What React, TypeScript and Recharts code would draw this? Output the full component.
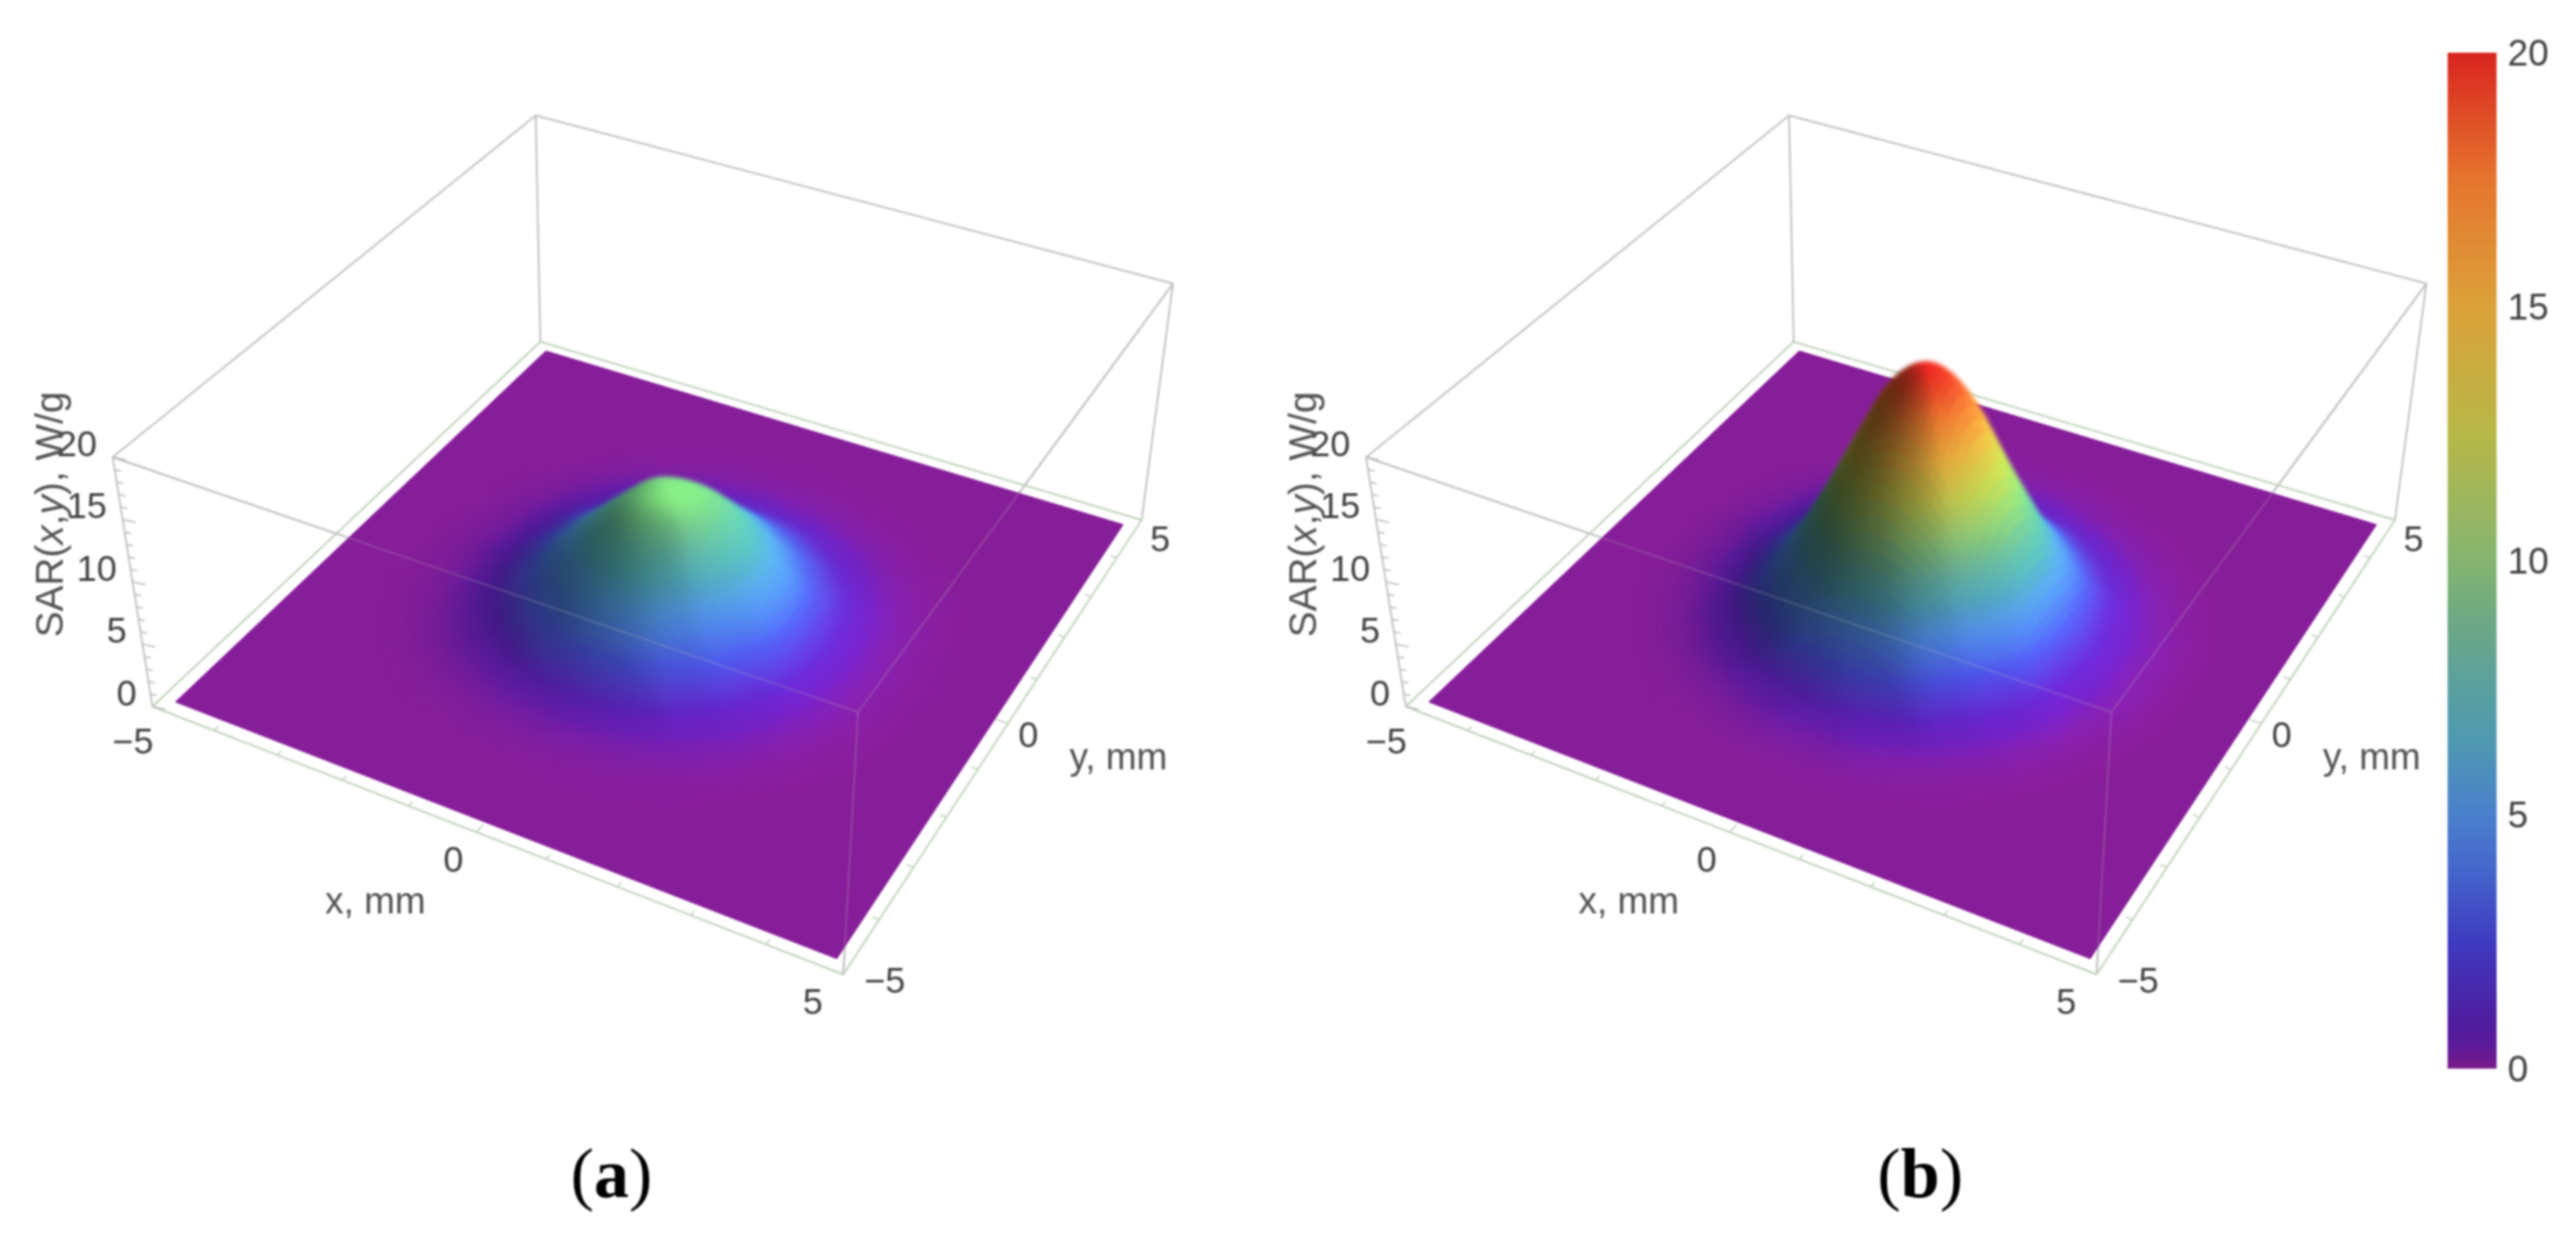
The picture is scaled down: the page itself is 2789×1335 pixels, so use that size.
import React from 'react';
import { ScatterChart, Scatter, XAxis, YAxis, BarChart, Bar } from 'recharts';

// SAR, W/g, one quadrant at 0.5 mm steps (the field is round, so it is mirrored)
const sarQuadrantA = [
  [9.5, 9.0, 7.0, 4.6, 2.4, 1.0, 0.35, 0.1, 0.02],
  [9.0, 8.5, 6.4, 4.2, 2.2, 0.9, 0.3, 0.09, 0.02],
  [7.0, 6.4, 4.9, 3.0, 1.7, 0.7, 0.25, 0.07, 0.01],
  [4.6, 4.2, 3.0, 2.0, 1.0, 0.45, 0.15, 0.04, 0],
  [2.4, 2.2, 1.7, 1.0, 0.55, 0.25, 0.08, 0.02, 0],
  [1.0, 0.9, 0.7, 0.45, 0.25, 0.1, 0.03, 0, 0],
  [0.35, 0.3, 0.25, 0.15, 0.08, 0.03, 0, 0, 0],
  [0.1, 0.09, 0.07, 0.04, 0.02, 0, 0, 0, 0],
  [0.02, 0.02, 0.01, 0, 0, 0, 0, 0, 0],
];
const sarQuadrantB = [
  [20, 18.2, 13.3, 8.1, 3.8, 1.5, 0.5, 0.14, 0.02],
  [18.2, 16.5, 12, 7.4, 3.5, 1.3, 0.5, 0.14, 0.02],
  [13.3, 12, 9.0, 5.3, 2.7, 1.0, 0.35, 0.1, 0.01],
  [8.1, 7.4, 5.3, 3.2, 1.5, 0.65, 0.2, 0.05, 0],
  [3.8, 3.5, 2.7, 1.5, 0.8, 0.32, 0.1, 0.02, 0],
  [1.5, 1.3, 1.0, 0.65, 0.32, 0.14, 0.03, 0, 0],
  [0.5, 0.5, 0.35, 0.2, 0.1, 0.03, 0, 0, 0],
  [0.14, 0.14, 0.1, 0.05, 0.02, 0, 0, 0, 0],
  [0.02, 0.02, 0.01, 0, 0, 0, 0, 0, 0],
];
const xyMinorTicks = [-5, -4, -3, -2, -1, 0, 1, 2, 3, 4, 5];
const xyLabels = [-5, 0, 5];
const zMinorTicks = [0, 1, 2, 3, 4, 5, 6, 7, 8, 9, 10, 11, 12, 13, 14, 15, 16, 17, 18, 19, 20];
const zLabels = [0, 5, 10, 15, 20];
const barTicks = [0, 5, 10, 15, 20];
const barData = [{ name: 'SAR', value: 20 }];

const colorValues = [0, 0.5, 1, 2.5, 4, 5, 6.5, 7.5, 9, 10, 12.5, 15, 17.5, 20];
const colorStops = ['#7a1b8a', '#5a1a9a', '#4e1ea0', '#3f3bc0', '#4569cc', '#4a80cc', '#4f9ab0', '#5aa0a0', '#70aa80', '#85b570', '#b8b848', '#dca23a', '#e5752e', '#d9251f'];

const FONT = '"Liberation Sans", Arial, sans-serif';
const SERIF = '"Liberation Serif", serif';
const W = 1340;
const H = 1335;
const OFFSET_B = 1357;
const SOFT = 'blur(1.3px)';
const SOFT_SURFACE = 'blur(2.5px)';

type Pt = [number, number];

// camera fit: corners of a z-level seen in the picture, in order (-5,-5), (5,-5), (5,5), (-5,5)
const floorBox: Pt[] = [[165, 765], [913, 1055], [1236, 563], [585, 370]];
const ceilBox: Pt[] = [[122, 495], [929, 771], [1270, 307], [580, 125]];
const planeLow: Pt[] = [[190, 760], [906, 1038], [1216, 568], [591, 380]];
const planeHigh: Pt[] = [[148, 490], [922, 753], [1249, 312], [586, 135]];

function quadMap(q: Pt[]) {
  const [[x0, y0], [x1, y1], [x2, y2], [x3, y3]] = q;
  const sx = x0 - x1 + x2 - x3;
  const sy = y0 - y1 + y2 - y3;
  const dx1 = x1 - x2;
  const dx2 = x3 - x2;
  const dy1 = y1 - y2;
  const dy2 = y3 - y2;
  const den = dx1 * dy2 - dx2 * dy1;
  const g = (sx * dy2 - dx2 * sy) / den;
  const h = (dx1 * sy - sx * dy1) / den;
  const a = x1 - x0 + g * x1;
  const b = x3 - x0 + h * x3;
  const d = y1 - y0 + g * y1;
  const e = y3 - y0 + h * y3;
  return (x: number, y: number): Pt => {
    const u = (x + 5) / 10;
    const v = (y + 5) / 10;
    const w = g * u + h * v + 1;
    return [(a * u + b * v + x0) / w, (d * u + e * v + y0) / w];
  };
}

const low = quadMap(planeLow);
const high = quadMap(planeHigh);
const floorAt = quadMap(floorBox);

const project = (x: number, y: number, z: number): Pt => {
  const a = low(x, y);
  const b = high(x, y);
  const t = z / 20;
  return [a[0] + (b[0] - a[0]) * t, a[1] + (b[1] - a[1]) * t];
};

const hexToRgb = (hex: string) => [1, 3, 5].map((i) => parseInt(hex.slice(i, i + 2), 16));

function colorAt(z: number) {
  let i = 0;
  while (i < colorValues.length - 2 && z > colorValues[i + 1]) i++;
  const t = Math.min(1, (z - colorValues[i]) / (colorValues[i + 1] - colorValues[i]));
  const a = hexToRgb(colorStops[i]);
  const b = hexToRgb(colorStops[i + 1]);
  return a.map((v, k) => v + (b[k] - v) * t);
}

// Mathematica-style lights: main one from the right of the view, a weaker one from the front
function shadedColor(z: number, zx: number, zy: number) {
  const right = -(zx + zy) / Math.SQRT2;
  const front = (zy - zx) / Math.SQRT2;
  const grad2 = zx * zx + zy * zy;
  const lr = right / Math.sqrt(grad2 + 25);
  const lrLow = right / Math.sqrt(grad2 + 2.25);
  const lf = front / Math.sqrt(grad2 + 2.25);
  const flat = 1 / (1 + grad2 / 9);
  const lowZ = Math.max(0, 1 - z / 6);
  const shade =
    1.11 - 0.1 * (1 - flat) + (lr > 0 ? 0.08 * lr : 0.7 * lr) + lowZ * (0.3 * Math.max(lf, 0) + 0.25 * Math.max(lrLow, 0));
  const bump = z < 3 ? Math.max(0, z - 1) / 2 : z > 12 ? Math.max(0, (18 - z) / 6) : 1;
  const green = bump * 45 * (flat + Math.max(lr, 0) * 0.7);
  const spec = 12 * Math.max(lr, 0);
  const rgb = colorAt(z).map((v, k) => Math.min(255, Math.round(v * shade + spec + (k === 1 ? green : 0))));
  return `rgb(${rgb.join(',')})`;
}

const catmull = (p0: number, p1: number, p2: number, p3: number, t: number) =>
  0.5 * (2 * p1 + (p2 - p0) * t + (2 * p0 - 5 * p1 + 4 * p2 - p3) * t * t + (3 * p1 - p0 - 3 * p2 + p3) * t * t * t);

// smooth shading of the read grid, the way a surface plot renders between its nodes
function sampler(q: number[][]) {
  const node = (i: number, j: number) => q[Math.min(8, Math.abs(i))][Math.min(8, Math.abs(j))];
  return (x: number, y: number) => {
    const fx = x * 2;
    const fy = y * 2;
    const i = Math.floor(fx);
    const j = Math.floor(fy);
    const col = (ii: number) =>
      catmull(node(ii, j - 1), node(ii, j), node(ii, j + 1), node(ii, j + 2), fy - j);
    return Math.max(0, catmull(col(i - 1), col(i), col(i + 1), col(i + 2), fx - i));
  };
}

const SUB = 0.1;

function buildMesh(q: number[][]) {
  const sar = sampler(q);
  const cells: any[] = [];
  const n = Math.round(8.6 / SUB);
  for (let a = 0; a < n; a++) {
    for (let b = 0; b < n; b++) {
      const x = -4.3 + a * SUB;
      const y = -4.3 + b * SUB;
      const mx = x + SUB / 2;
      const my = y + SUB / 2;
      const cz = sar(mx, my);
      if (cz < 0.005) continue;
      const e = 0.3;
      const zx = (sar(mx + e, my) - sar(mx - e, my)) / (2 * e);
      const zy = (sar(mx, my + e) - sar(mx, my - e)) / (2 * e);
      const corners = [
        project(x, y, sar(x, y)),
        project(x + SUB, y, sar(x + SUB, y)),
        project(x + SUB, y + SUB, sar(x + SUB, y + SUB)),
        project(x, y + SUB, sar(x, y + SUB)),
      ];
      cells.push({
        px: corners[0][0],
        py: corners[0][1],
        corners,
        fill: shadedColor(cz, zx, zy),
        depth: x - y,
      });
    }
  }
  return cells.sort((p, r) => p.depth - r.depth);
}

const PolygonCell = (props: any) => {
  const { cx, cy, payload } = props;
  const pts = payload.corners.map((c: Pt) => `${cx + c[0] - payload.px},${cy + c[1] - payload.py}`).join(' ');
  return <polygon points={pts} fill={payload.fill} stroke={payload.fill} strokeWidth={1} />;
};

const TickMark = (props: any) => {
  const { cx, cy, payload } = props;
  return <line x1={cx} y1={cy} x2={cx + payload.dx} y2={cy + payload.dy} stroke={payload.stroke} strokeWidth={1.6} />;
};

const TextMark = (props: any) => {
  const { cx, cy, payload } = props;
  return (
    <text x={cx} y={cy} textAnchor={payload.anchor} dominantBaseline="central" fontFamily={FONT} fontSize={payload.size} fill="#404040">
      {payload.text}
    </text>
  );
};

const AxisName = (props: any) => {
  const { cx, cy, payload } = props;
  return (
    <text x={cx} y={cy} dominantBaseline="central" fontFamily={FONT} fontSize={payload.size} fill="#505050" transform={payload.rotate ? `rotate(-90 ${cx} ${cy})` : undefined}>
      {payload.parts.map((p: any, i: number) => (
        <tspan key={i} fontStyle={p.italic ? 'italic' : 'normal'}>{p.text}</tspan>
      ))}
    </text>
  );
};

const Caption = (props: any) => {
  const { cx, cy, payload } = props;
  return (
    <text x={cx} y={cy} textAnchor="middle" dominantBaseline="central" fontFamily={SERIF} fontSize={76} fill="#000">
      (<tspan fontWeight="bold">{payload.text}</tspan>)
    </text>
  );
};

const Blank = () => null;
const pt = (p: Pt) => ({ px: p[0], py: p[1] });

const edge = (a: Pt, b: Pt, stroke: string, opacity = 1) => (
  <Scatter
    data={[pt(a), pt(b)]}
    dataKey="py"
    shape={Blank}
    line={{ stroke, strokeWidth: 2, strokeOpacity: opacity }}
    isAnimationActive={false}
  />
);

const GREY = '#c2c2c2';
const GREEN = '#bfd3ba';

const tickSeries = () => {
  const out: any[] = [];
  xyMinorTicks.forEach((v) => {
    const major = v % 5 === 0;
    const l = major ? 0.16 : 0.09;
    const a = floorAt(v, -5);
    const b = floorAt(v, -5 + l);
    out.push({ ...pt(a), dx: b[0] - a[0], dy: b[1] - a[1], stroke: GREEN });
    const c = floorAt(5, v);
    const d = floorAt(5 - l, v);
    out.push({ ...pt(c), dx: d[0] - c[0], dy: d[1] - c[1], stroke: GREEN });
  });
  zMinorTicks.forEach((z) => {
    const t = z / 20;
    const a: Pt = [floorBox[0][0] + (ceilBox[0][0] - floorBox[0][0]) * t, floorBox[0][1] + (ceilBox[0][1] - floorBox[0][1]) * t];
    out.push({ ...pt(a), dx: z % 5 === 0 ? 14 : 7, dy: z % 5 === 0 ? 3 : 1.5, stroke: '#bbbbbb' });
  });
  return out;
};

const labelSeries = () => {
  const out: any[] = [];
  xyLabels.forEach((v) => {
    const a = floorAt(v, -5);
    out.push({ px: a[0] - (v === -5 ? 21 : v === 0 ? 25 : 33), py: a[1] + (v === -5 ? 37 : 29), text: v < 0 ? `\u2212${-v}` : `${v}`, anchor: 'middle', size: 39 });
    const c = floorAt(5, v);
    out.push({ px: c[0] + (v === -5 ? 45 : v === 0 ? 22 : 20), py: c[1] + (v === -5 ? 6 : v === 0 ? 12 : 20), text: v < 0 ? `\u2212${-v}` : `${v}`, anchor: 'middle', size: 39 });
  });
  zLabels.forEach((z) => {
    const t = z / 20;
    out.push({
      px: floorBox[0][0] + (ceilBox[0][0] - floorBox[0][0]) * t - 17,
      py: floorBox[0][1] + (ceilBox[0][1] - floorBox[0][1]) * t - 15,
      text: `${z}`,
      anchor: 'end',
      size: 39,
    });
  });
  return out;
};

const plane = [{
  ...pt(planeLow[0]),
  corners: planeLow,
  fill: shadedColor(0, 0, 0),
}];

// one full-size chart whose axes run in picture pixels; the layers below stack these
const Layer = ({ filter, children }: { filter: string; children: React.ReactNode }) => (
  <div style={{ position: 'absolute', left: 0, top: 0, filter }}>
    <ScatterChart width={W} height={H} margin={{ top: 0, right: 0, bottom: 0, left: 0 }}>
      <XAxis type="number" dataKey="px" domain={[0, W]} hide allowDataOverflow />
      <YAxis type="number" dataKey="py" domain={[0, H]} reversed hide allowDataOverflow />
      {children}
    </ScatterChart>
  </div>
);

const Panel = ({ grid, caption, captionX, left }: { grid: number[][]; caption: string; captionX: number; left: number }) => {
  const mesh = React.useMemo(() => buildMesh(grid), [grid]);
  const [L, F, R, B] = ceilBox;
  const [l, f, r, b] = floorBox;
  return (
    <div style={{ position: 'absolute', left, top: 0, width: W, height: H }}>
      <Layer filter={SOFT}>
        {edge(L, B, GREY)}
        {edge(B, R, GREY)}
        {edge(L, F, GREY)}
        {edge(F, R, GREY)}
        {edge(L, l, GREY)}
        {edge(R, r, GREY)}
        {edge(B, b, GREY)}
        {edge(F, f, GREY)}
        {edge(l, f, GREEN)}
        {edge(f, r, GREEN)}
        {edge(r, b, GREEN)}
        {edge(b, l, GREEN)}
        <Scatter data={tickSeries()} shape={TickMark} isAnimationActive={false} />
        <Scatter data={plane} shape={PolygonCell} isAnimationActive={false} />
      </Layer>
      <Layer filter={SOFT_SURFACE}>
        <Scatter data={mesh} shape={PolygonCell} isAnimationActive={false} />
      </Layer>
      <Layer filter={SOFT}>
        {edge(L, F, GREY, 0.22)}
        {edge(F, R, GREY, 0.22)}
        {edge(F, f, GREY, 0.22)}
        <Scatter data={labelSeries()} shape={TextMark} isAnimationActive={false} />
        <Scatter
          data={[{ px: 53, py: 690, rotate: true, size: 42, parts: [{ text: 'SAR(' }, { text: 'x', italic: true }, { text: ',' }, { text: 'y', italic: true }, { text: '), W/g' }] }]}
          shape={AxisName}
          isAnimationActive={false}
        />
        <Scatter data={[{ px: 352, py: 975, size: 40, parts: [{ text: 'x, mm' }] }]} shape={AxisName} isAnimationActive={false} />
        <Scatter data={[{ px: 1158, py: 819, size: 40, parts: [{ text: 'y, mm' }] }]} shape={AxisName} isAnimationActive={false} />
        <Scatter data={[{ px: captionX, py: 1270, text: caption }]} shape={Caption} isAnimationActive={false} />
      </Layer>
    </div>
  );
};

const ColorBar = () => (
  <BarChart width={139} height={1180} data={barData} margin={{ top: 40, right: 0, bottom: 40, left: 0 }} barCategoryGap={0}>
    <defs>
      <linearGradient id="sarBar" x1="0" y1="1" x2="0" y2="0">
        {colorValues.map((v, i) => (
          <stop key={v} offset={`${(v / 20) * 100}%`} stopColor={colorStops[i]} />
        ))}
      </linearGradient>
    </defs>
    <XAxis dataKey="name" hide />
    <YAxis
      orientation="right"
      width={86}
      domain={[0, 20]}
      ticks={barTicks}
      tickLine={false}
      axisLine={false}
      tickMargin={6}
      interval={0}
      tick={{ fontFamily: FONT, fontSize: 40, fill: '#404040' }}
    />
    <Bar dataKey="value" fill="url(#sarBar)" isAnimationActive={false} />
  </BarChart>
);

export default function App() {
  return (
    <div style={{ position: 'absolute', left: 0, top: 0, width: 2789, height: 1335, background: '#fff', overflow: 'hidden' }}>
      <Panel grid={sarQuadrantA} caption="a" captionX={662} left={0} />
      <Panel grid={sarQuadrantB} caption="b" captionX={722} left={OFFSET_B} />
      <div style={{ position: 'absolute', left: 2650, top: 17, filter: SOFT }}>
        <ColorBar />
      </div>
    </div>
  );
}
